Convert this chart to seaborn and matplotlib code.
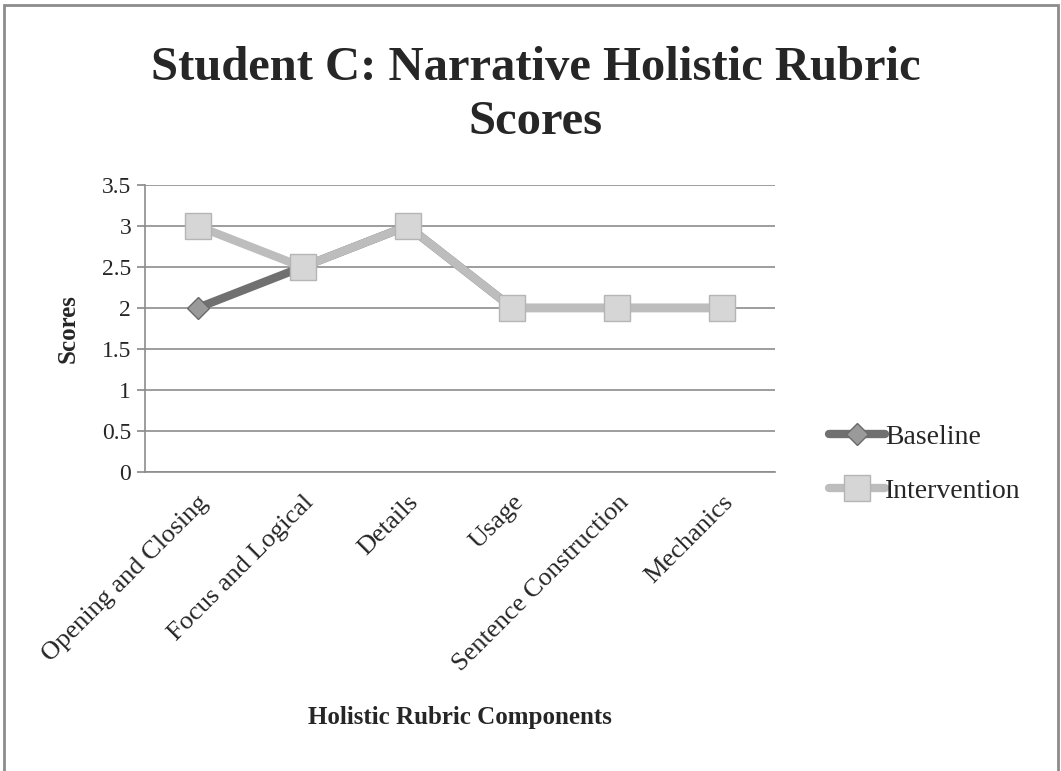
import seaborn as sns
import matplotlib.pyplot as plt
import pandas as pd
from matplotlib.patches import Rectangle

components = ['Opening and Closing', 'Focus and Logical', 'Details',
              'Usage', 'Sentence Construction', 'Mechanics']
baseline = [2, 2.5, 3, 2, 2, 2]
intervention = [3, 2.5, 3, 2, 2, 2]
ytick_labels = ['0', '0.5', '1', '1.5', '2', '2.5', '3', '3.5']

sns.set_theme(style='white')
plt.rcParams['font.family'] = ['Liberation Serif', 'DejaVu Serif']

df = pd.DataFrame({'component': components,
                   'Baseline': baseline,
                   'Intervention': intervention})

fig = plt.figure(figsize=(10.61, 7.71), dpi=100)
ax = fig.add_axes([0.1367, 0.388, 0.5937, 0.372])

sns.lineplot(data=df, x='component', y='Baseline', sort=False, ax=ax,
             color='#707070', linewidth=6, marker='D', markersize=11,
             markerfacecolor='#9a9a9a', markeredgecolor='#6a6a6a',
             markeredgewidth=1, label='Baseline')
sns.lineplot(data=df, x='component', y='Intervention', sort=False, ax=ax,
             color='#bdbdbd', linewidth=6, marker='s', markersize=19,
             markerfacecolor='#d6d6d6', markeredgecolor='#b5b5b5',
             markeredgewidth=1, label='Intervention')

ax.set_xlim(-0.5, len(components) - 0.5)
ax.set_ylim(0, 3.5)
ax.set_yticks([i * 0.5 for i in range(len(ytick_labels))])
ax.set_yticklabels(ytick_labels)
ax.grid(axis='y', color='#8c8c8c', linewidth=1.2)
ax.set_axisbelow(True)

ax.set_xticks(range(len(components)))
ax.set_xticklabels(components, rotation=45, ha='right', rotation_mode='anchor')
ax.set_xticks([i - 0.5 for i in range(len(components) + 1)], minor=True)
ax.tick_params(axis='x', which='major', length=0, labelsize=19, pad=14)
ax.tick_params(axis='x', which='minor', length=6, color='#8c8c8c', direction='out')
ax.tick_params(axis='y', length=6, color='#8c8c8c', direction='out', labelsize=17,
               left=True, pad=4)

for s in ['top', 'right']:
    ax.spines[s].set_visible(False)
for s in ['left', 'bottom']:
    ax.spines[s].set_color('#8c8c8c')
    ax.spines[s].set_linewidth(1.2)

ax.set_xlabel('Holistic Rubric Components', fontsize=18, fontweight='bold', labelpad=22)
ax.set_ylabel('Scores', fontsize=18, fontweight='bold', labelpad=16)

ax.get_legend().remove()
handles, labels = ax.get_legend_handles_labels()
fig.legend(handles, labels, loc='center left', bbox_to_anchor=(0.758, 0.398),
           frameon=False, fontsize=20, handlelength=2.0, handletextpad=0.0,
           labelspacing=1.05)

fig.suptitle('Student C: Narrative Holistic Rubric\nScores', x=0.505, y=0.94,
             fontsize=35, fontweight='bold', linespacing=1.3)

fig.patches.append(Rectangle((0.004, -0.01), 0.993, 1.004, transform=fig.transFigure,
                             fill=False, edgecolor='#8c8c8c', linewidth=2))

fig.savefig('out.png', dpi=100)
